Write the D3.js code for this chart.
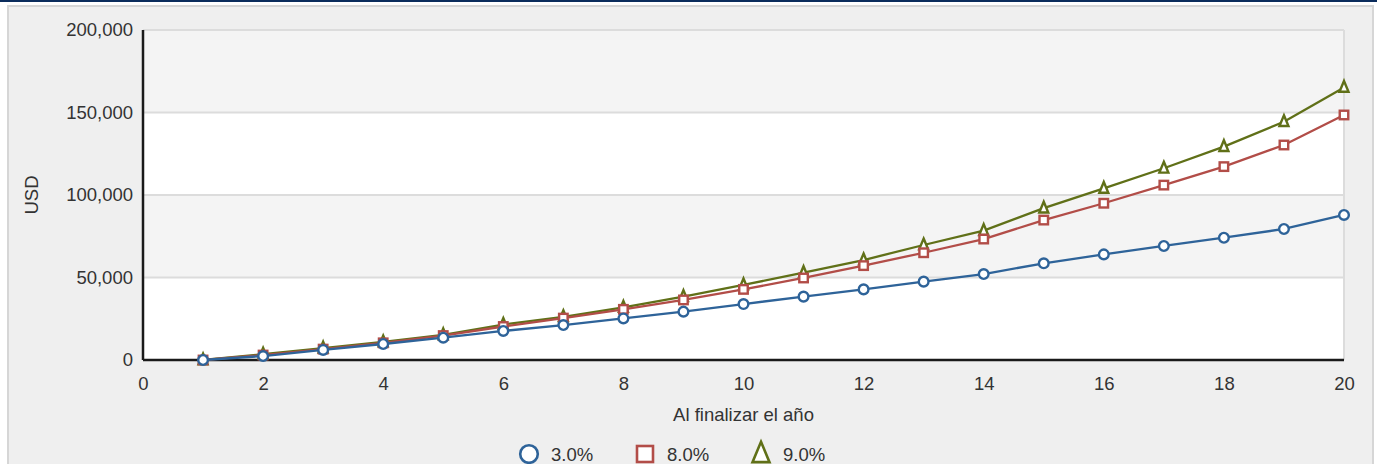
<!DOCTYPE html>
<html>
<head>
<meta charset="utf-8">
<script src="https://cdn.jsdelivr.net/npm/d3@7"></script>
<style>
  body { margin: 0; background: #fff; font-family: "Liberation Sans", Arial, sans-serif; }
  svg text { font-family: "Liberation Sans", Arial, sans-serif; }
</style>
</head>
<body>
<div id="chart"></div>
<script>
// valeurs
var years = [1,2,3,4,5,6,7,8,9,10,11,12,13,14,15,16,17,18,19,20];
var serie3 = [0,2400,6100,9700,13500,17600,21200,25200,29300,33900,38400,42800,47500,52100,58600,64000,69100,74100,79400,87900];
var serie8 = [0,3000,6600,10400,14800,20300,25400,30700,36400,42800,49700,57200,65000,73300,84800,95000,106000,117200,130300,148500];
var serie9 = [0,3500,7200,10900,15200,21500,26200,31900,38400,45500,52900,60600,69700,78400,92000,104000,116200,129300,144400,165200];
var seriesNames = ["3.0%", "8.0%", "9.0%"];
var seriesColors = ["#2e6399", "#b24d48", "#607018"];
var seriesShapes = ["circle", "square", "triangle"];
var yTicks = [0, 50000, 100000, 150000, 200000];
var xTicks = [0, 2, 4, 6, 8, 10, 12, 14, 16, 18, 20];

var width = 1377, height = 464;
var margin = {left: 143, right: 33, top: 30, bottom: 104};
var fs = 18.5;

var svg = d3.select("#chart").append("svg")
    .attr("width", width)
    .attr("height", height);

// bande bleue en haut
svg.append("rect").attr("x", 0).attr("y", 0).attr("width", width).attr("height", 2).attr("fill", "#0b2c5c");

// panneau gris
svg.append("rect")
    .attr("x", 8).attr("y", 6).attr("width", 1365).attr("height", 470)
    .attr("fill", "#efefef").attr("stroke", "#d6d6d6").attr("stroke-width", 2);

var x = d3.scaleLinear().domain([0, 20]).range([margin.left, width - margin.right]);
var y = d3.scaleLinear().domain([0, 200000]).range([height - margin.bottom, margin.top]);

// bandes alternées
for (var i = 0; i < yTicks.length - 1; i++) {
  svg.append("rect")
      .attr("x", x(0)).attr("y", y(yTicks[i + 1]))
      .attr("width", x(20) - x(0)).attr("height", y(yTicks[i]) - y(yTicks[i + 1]))
      .attr("fill", i % 2 == 0 ? "#ffffff" : "#f4f4f4");
}

// lignes de grille
svg.append("g").selectAll("line")
    .data(yTicks.slice(1))
  .enter().append("line")
    .attr("x1", x(0)).attr("x2", x(20))
    .attr("y1", d => y(d)).attr("y2", d => y(d))
    .attr("stroke", "#dcdcdc").attr("stroke-width", 2);

svg.append("line")
    .attr("x1", x(20)).attr("x2", x(20))
    .attr("y1", y(200000)).attr("y2", y(0))
    .attr("stroke", "#dcdcdc").attr("stroke-width", 2);

// axes
var yAxis = svg.append("g")
    .attr("transform", "translate(" + x(0) + ",0)")
    .call(d3.axisLeft(y).tickValues(yTicks).tickFormat(d3.format(",")).tickSize(0).tickPadding(10));
var xAxis = svg.append("g")
    .attr("transform", "translate(0," + y(0) + ")")
    .call(d3.axisBottom(x).tickValues(xTicks).tickSize(0).tickPadding(17));

[xAxis, yAxis].forEach(function(a) {
  a.select(".domain").attr("stroke", "#1a1a1a").attr("stroke-width", 2.5);
  a.selectAll("text").attr("font-size", fs).attr("fill", "#333");
});
xAxis.select(".domain").attr("d", "M" + x(0) + ",0H" + x(20));
yAxis.select(".domain").attr("d", "M0," + y(0) + "V" + y(200000));

// titres des axes
svg.append("text")
    .attr("transform", "translate(38," + (y(100000)) + ") rotate(-90)")
    .attr("text-anchor", "middle").attr("font-size", fs).attr("fill", "#333")
    .text("USD");
svg.append("text")
    .attr("x", (x(0) + x(20)) / 2).attr("y", 421)
    .attr("text-anchor", "middle").attr("font-size", fs).attr("fill", "#333")
    .text("Al finalizar el año");

function drawMarker(g, shape, color, size) {
  if (shape == "circle") {
    g.append("circle").attr("r", size * 0.55);
  } else if (shape == "square") {
    g.append("rect").attr("x", -size / 2).attr("y", -size / 2).attr("width", size).attr("height", size);
  } else {
    var h = size * 1.2;
    g.append("path").attr("d", "M0," + (-h * 0.6) + "L" + (size / 2) + "," + (h * 0.4) + "L" + (-size / 2) + "," + (h * 0.4) + "Z");
  }
  g.selectAll("*").attr("fill", "#fff").attr("stroke", color).attr("stroke-width", 2.4);
}

var allSeries = [serie3, serie8, serie9];
var markerSize = [8.8, 8.5, 9];
var line = d3.line().x(d => x(d[0])).y(d => y(d[1]));

// dessiner du dernier au premier pour que le bleu soit au-dessus
for (var s = allSeries.length - 1; s >= 0; s--) {
  var pts = years.map((yr, j) => [yr, allSeries[s][j]]);
  svg.append("path")
      .datum(pts)
      .attr("d", line)
      .attr("fill", "none")
      .attr("stroke", seriesColors[s])
      .attr("stroke-width", 2.3);
  var mg = svg.append("g");
  pts.forEach(function(p) {
    var g = mg.append("g").attr("transform", "translate(" + x(p[0]) + "," + y(p[1]) + ")");
    drawMarker(g, seriesShapes[s], seriesColors[s], markerSize[s]);
  });
}

// légende
var legendX = [529, 645, 761];
var legendSize = [16, 16, 17];
seriesNames.forEach(function(name, i) {
  var g = svg.append("g").attr("transform", "translate(" + legendX[i] + ",454)");
  drawMarker(g, seriesShapes[i], seriesColors[i], legendSize[i]);
  g.selectAll("*").attr("stroke-width", 2.6);
  g.append("text")
      .attr("x", 22).attr("y", 6.5)
      .attr("font-size", fs).attr("fill", "#333")
      .text(name);
});
</script>
</body>
</html>
